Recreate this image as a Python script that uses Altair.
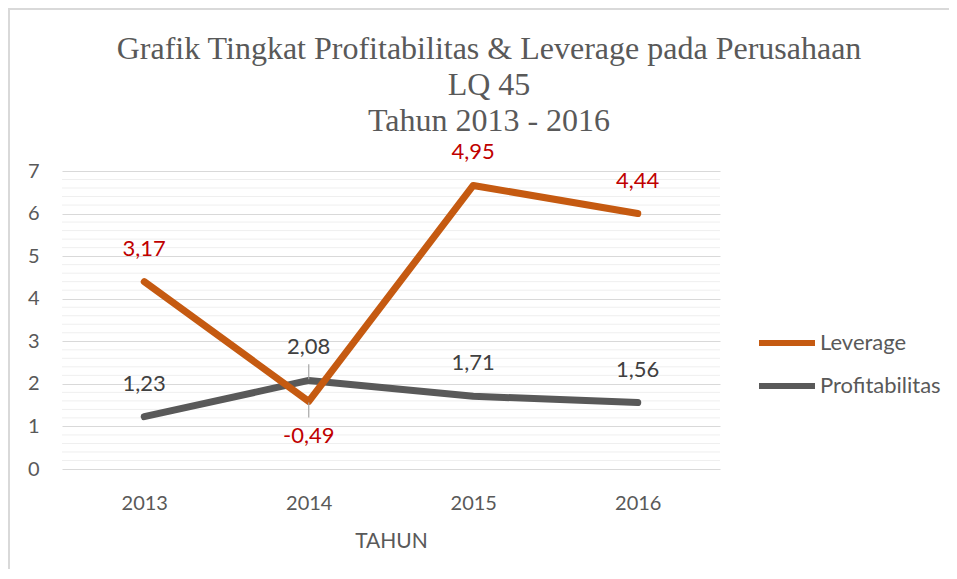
import altair as alt
import pandas as pd

# ---- data ----
tahun = ["2013", "2014", "2015", "2016"]
leverage = [3.17, -0.49, 4.95, 4.44]
profitabilitas = [1.23, 2.08, 1.71, 1.56]
posisi_leverage = ["atas", "bawah", "atas", "atas"]
posisi_profit = ["atas", "atas", "atas", "atas"]
garis_penunjuk = ["2014"]
y_ticks = [0, 1, 2, 3, 4, 5, 6, 7]
minor_grid = [round(i * 0.2, 1) for i in range(1, 35) if i % 5]
seri_urut = ["Leverage", "Profitabilitas"]

rows = []
for i, t in enumerate(tahun):
    rows.append(dict(tahun=t, seri="Profitabilitas", nilai=profitabilitas[i],
                     pos=profitabilitas[i], posisi=posisi_profit[i]))
for i, t in enumerate(tahun):
    # stacked line chart: Leverage drawn on top of Profitabilitas
    rows.append(dict(tahun=t, seri="Leverage", nilai=leverage[i],
                     pos=profitabilitas[i] + leverage[i], posisi=posisi_leverage[i]))
df = pd.DataFrame(rows)
df["label"] = df["nilai"].map(lambda v: f"{v:.2f}".replace(".", ","))
df["arah"] = df["posisi"].map({"atas": 1, "bawah": -1})
df["penunjuk"] = df["tahun"].isin(garis_penunjuk)

minor_df = pd.DataFrame({"v": minor_grid})

FONT = "Lato"
GREY = "#595959"
ydom = alt.Scale(domain=[0, 7], nice=False, zero=True)
xscale = alt.Scale(type="point", padding=0.5)

y_axis = alt.Axis(values=y_ticks, title=None, ticks=False, domain=False,
                  labelFont=FONT, labelFontSize=20, labelColor=GREY,
                  labelPadding=23, gridColor="#d9d9d9", gridWidth=1.2)

x_enc = alt.X("tahun:N", scale=xscale, sort=tahun,
              axis=alt.Axis(title="TAHUN", labelAngle=0, ticks=False, domain=False, grid=False,
                            labelFont=FONT, labelFontSize=20, labelColor=GREY,
                            labelPadding=24, titleFont=FONT, titleFontSize=21,
                            titleFontWeight="normal", titleColor=GREY, titlePadding=17))

minor = alt.Chart(minor_df).mark_rule(color="#efefef", strokeWidth=1).encode(
    y=alt.Y("v:Q", scale=ydom, axis=y_axis)
)

base = alt.Chart(df)

y_enc = alt.Y("pos:Q", scale=ydom, axis=y_axis)

color_enc = alt.Color("seri:N",
                      scale=alt.Scale(domain=seri_urut, range=["#C55A11", "#595959"]),
                      legend=alt.Legend(title=None, orient="none", legendX=694, legendY=141,
                                        symbolType="stroke", symbolSize=3136,
                                        symbolStrokeWidth=6, labelFont=FONT,
                                        labelFontSize=22, labelColor=GREY,
                                        labelOffset=2, rowPadding=0))

line_p = base.transform_filter(alt.datum.seri == "Profitabilitas").mark_line(
    strokeWidth=7, strokeCap="round", strokeJoin="round"
).encode(x=x_enc, y=y_enc, color=color_enc)

line_l = base.transform_filter(alt.datum.seri == "Leverage").mark_line(
    strokeWidth=7, strokeCap="round", strokeJoin="round"
).encode(x=x_enc, y=y_enc, color=color_enc)

lead = base.transform_filter(alt.datum.penunjuk).transform_calculate(
    y1="datum.pos + 0.03 * datum.arah", y2="datum.pos + 0.38 * datum.arah"
).mark_rule(color="#a6a6a6", strokeWidth=1.2).encode(
    x=alt.X("tahun:N", scale=xscale, sort=tahun),
    y=alt.Y("y1:Q", scale=ydom),
    y2="y2:Q",
)

label_color = alt.condition(alt.datum.seri == "Leverage", alt.value("#C00000"), alt.value("#404040"))

text_up = base.transform_filter(alt.datum.posisi == "atas").mark_text(
    font=FONT, fontSize=22, dy=-33, baseline="middle"
).encode(x=alt.X("tahun:N", scale=xscale, sort=tahun), y=alt.Y("pos:Q", scale=ydom),
         text="label:N", color=label_color)

text_down = base.transform_filter(alt.datum.posisi == "bawah").mark_text(
    font=FONT, fontSize=22, dy=35, baseline="middle"
).encode(x=alt.X("tahun:N", scale=xscale, sort=tahun), y=alt.Y("pos:Q", scale=ydom),
         text="label:N", color=label_color)

border_left = alt.Chart(minor_df).mark_rule(color="#d9d9d9", strokeWidth=2).encode(
    x=alt.value(-53), y=alt.value(-163), y2=alt.value(440)
)
border_top = alt.Chart(minor_df).mark_rule(color="#d9d9d9", strokeWidth=2).encode(
    x=alt.value(-53), x2=alt.value(920), y=alt.value(-162)
)

chart = alt.layer(
    minor, line_p, line_l, lead, text_up, text_down, border_left, border_top
).properties(
    width=658, height=298,
    autosize=alt.AutoSizeParams(type="none"),
    padding={"left": 54, "top": 163, "right": 229, "bottom": 100},
    title=alt.TitleParams(
        ["Grafik Tingkat Profitabilitas & Leverage pada Perusahaan", "LQ 45", "Tahun 2013 - 2016"],
        font="Liberation Serif", fontSize=32, fontWeight="normal", color=GREY,
        lineHeight=36, anchor="middle", frame="group", dx=98, offset=-131,
    ),
).configure(background="white").configure_view(stroke=None)

chart.save("out.html", embed_options={"renderer": "svg", "actions": False})
